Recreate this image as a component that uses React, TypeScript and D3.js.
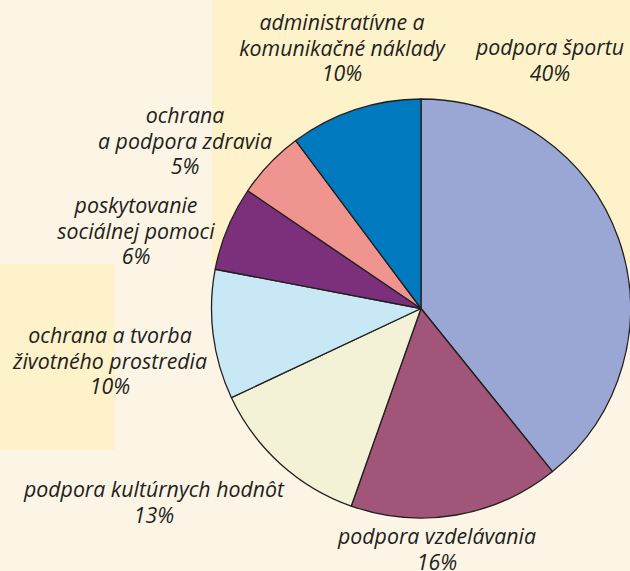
import { useEffect, useRef } from "react";
import * as d3 from "d3";

// categories, clockwise from 12 o'clock
const categories = [
  "podpora športu",
  "podpora vzdelávania",
  "podpora kultúrnych hodnôt",
  "ochrana a tvorba životného prostredia",
  "poskytovanie sociálnej pomoci",
  "ochrana a podpora zdravia",
  "administratívne a komunikačné náklady",
];
// slice shares (percent)
const shares = [39.2, 16.2, 12.6, 10.0, 6.5, 5.3, 10.2];
// percentages as printed in the labels
const pctLabels = ["40%", "16%", "13%", "10%", "6%", "5%", "10%"];
// label lines as printed
const labelLines = [
  ["podpora športu"],
  ["podpora vzdelávania"],
  ["podpora kultúrnych hodnôt"],
  ["ochrana a tvorba", "životného prostredia"],
  ["poskytovanie", "sociálnej pomoci"],
  ["ochrana", "a podpora zdravia"],
  ["administratívne a", "komunikačné náklady"],
];
const colors = ["#9aa6d4", "#a15578", "#f3f2d6", "#c9e8f5", "#7c2f7b", "#f0948f", "#0079be"];

// label anchor (x centre, first baseline)
const labelPos: [number, number][] = [
  [550, 55],
  [437, 544],
  [154, 497],
  [110, 343],
  [136, 213],
  [185, 123],
  [342, 30],
];

function App() {
  const ref = useRef<SVGSVGElement>(null);

  useEffect(() => {
    const width = 630;
    const height = 571;
    const cx = 421;
    const cy = 308.5;
    const radius = 209.5;

    const svg = d3.select(ref.current);
    svg.selectAll("*").remove();

    // background panels
    svg.append("rect").attr("width", width).attr("height", height).attr("fill", "#fcf5e5");
    svg.append("rect").attr("x", 212).attr("y", 0).attr("width", width - 212).attr("height", 264).attr("fill", "#fdf2c9");
    svg.append("rect").attr("x", 0).attr("y", 264).attr("width", 115).attr("height", 186).attr("fill", "#fdf2c9");

    const pie = d3.pie<number>().sort(null).value(d => d);
    const arc = d3.arc<d3.PieArcDatum<number>>().innerRadius(0).outerRadius(radius);

    const g = svg.append("g").attr("transform", `translate(${cx},${cy})`);
    g.selectAll("path")
      .data(pie(shares))
      .enter()
      .append("path")
      .attr("d", arc)
      .attr("fill", (d, i) => colors[i])
      .attr("stroke", "#231f20")
      .attr("stroke-width", 1.3)
      .attr("stroke-linejoin", "round");

    const labels = svg.append("g")
      .attr("font-family", "'Open Sans', sans-serif")
      .attr("font-style", "italic")
      .attr("font-size", 21.3)
      .attr("fill", "#231f20")
      .attr("text-anchor", "middle");

    categories.forEach((c, i) => {
      const lines = [...labelLines[i], pctLabels[i]];
      const t = labels.append("text")
        .attr("x", labelPos[i][0])
        .attr("y", labelPos[i][1]);
      lines.forEach((line, j) => {
        t.append("tspan")
          .attr("x", labelPos[i][0])
          .attr("dy", j === 0 ? 0 : 25.5)
          .text(line);
      });
    });
  }, []);

  return (
    <div style={{ position: "absolute", left: 0, top: 0 }}>
      <svg ref={ref} width={630} height={571} style={{ display: "block" }} />
    </div>
  );
}

export default App;
